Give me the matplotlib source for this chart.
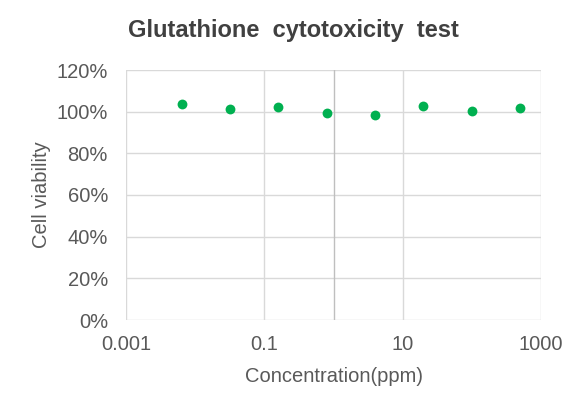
import matplotlib.pyplot as plt
from matplotlib.ticker import FuncFormatter

# concentration (ppm) and viability
conc = [0.0064, 0.032, 0.16, 0.8, 4, 20, 100, 500]
viability = [1.037, 1.013, 1.023, 0.994, 0.984, 1.029, 1.003, 1.018]

x_ticks = [0.001, 0.1, 10, 1000]
x_tick_labels = ["0.001", "0.1", "10", "1000"]
y_ticks = [0, 0.2, 0.4, 0.6, 0.8, 1.0, 1.2]

plt.rcParams["font.family"] = ["Liberation Sans", "DejaVu Sans"]

fig = plt.figure(figsize=(5.87, 4.11), dpi=100)
ax = fig.add_axes([126 / 587, 91 / 411, 415 / 587, 250 / 411])

grid_c = "#D9D9D9"
text_c = "#595959"

ax.set_xscale("log")
ax.set_xlim(0.001, 1000)
ax.set_ylim(0, 1.2)
ax.set_xticks(x_ticks)
ax.set_xticklabels(x_tick_labels)
ax.xaxis.set_minor_locator(plt.NullLocator())
ax.set_yticks(y_ticks)
ax.yaxis.set_major_formatter(FuncFormatter(lambda v, p: f"{v * 100:.0f}%"))

ax.grid(True, color=grid_c, linewidth=1.0)
ax.set_axisbelow(True)
for s in ax.spines.values():
    s.set_visible(False)
ax.axvline(1, color="#BFBFBF", linewidth=1.0, zorder=1)

ax.tick_params(axis="both", length=0, labelsize=14.5, labelcolor=text_c)
ax.tick_params(axis="y", pad=13)
ax.tick_params(axis="x", pad=11)

ax.scatter(conc, viability, s=50, color="#00B050", zorder=3, linewidths=0)

ax.set_xlabel("Concentration(ppm)", fontsize=14.5, color=text_c, labelpad=9)
ax.set_ylabel("Cell viability", fontsize=14.5, color=text_c, labelpad=4)
fig.text(293 / 587, 1 - 31 / 411, "Glutathione  cytotoxicity  test", ha="center", va="center",
         fontsize=17, fontweight="bold", color="#404040")

fig.savefig("out.png", dpi=100)
